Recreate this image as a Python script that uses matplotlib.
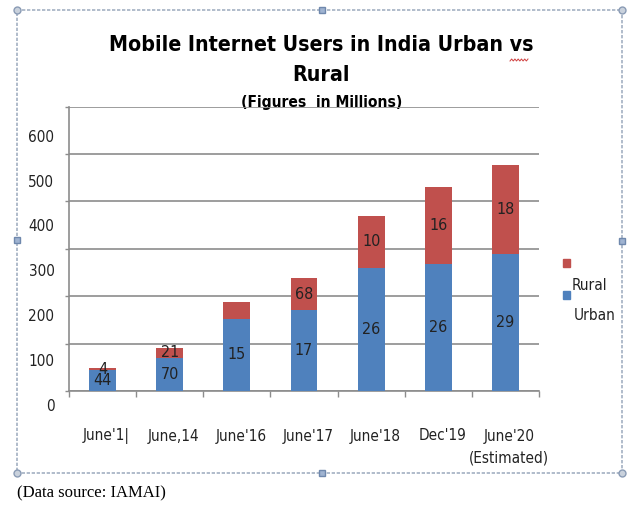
import numpy as np
import matplotlib
matplotlib.use("Agg")
import matplotlib.pyplot as plt
from matplotlib import font_manager as fm
from matplotlib.patches import Rectangle
from matplotlib.transforms import ScaledTranslation

# data (millions)
categories = ["June'1|", "June,14", "June'16", "June'17", "June'18", "Dec'19", "June'20\n(Estimated)"]
urban = [44, 70, 152, 170, 260, 267, 289]
rural = [4, 21, 35, 68, 109, 164, 189]
# labels exactly as printed on the original chart
urban_labels = ["44", "70", "15", "17", "26", "26", "29"]
rural_labels = ["4", "21", "", "68", "10", "16", "18"]
y_ticks = [0, 100, 200, 300, 400, 500, 600]


def find_narrow():
    # look for an Arial-Narrow-like face; the original chart uses one
    best = None
    for f in fm.fontManager.ttflist:
        nm = f.name
        if 'Mono' in nm or 'CJK' in nm or f.style != 'normal':
            continue
        if 'Liberation Sans Narrow' in nm or 'Arial Narrow' in nm:
            rank = 0
        elif any(s in nm for s in ['Roboto', 'Noto Sans', 'Open Sans', 'DejaVu Sans', 'Lato', 'Inter']) and \
                ('Condensed' in nm or f.stretch == 'condensed'):
            rank = 1
        elif any(s in nm for s in ['Roboto', 'Noto Sans', 'Open Sans', 'DejaVu Sans']) and \
                f.stretch == 'semi-condensed':
            rank = 2
        else:
            continue
        if best is None or rank < best[0]:
            best = (rank, nm, f.stretch)
    return best


narrow = find_narrow()
if narrow:
    plt.rcParams['font.family'] = [narrow[1], 'DejaVu Sans']
    plt.rcParams['font.stretch'] = narrow[2]
else:
    plt.rcParams['font.family'] = ['Liberation Sans', 'DejaVu Sans']

txt = '#222222'
grid_col = '#8c8c8c'
blue = '#4F81BD'
red = '#C0504D'
fs_tick = 11
fs_lab = 11.5

fig = plt.figure(figsize=(6.3, 5.07), dpi=100)

# overlay in pixel coords for the frame, titles and legend
ax0 = fig.add_axes([0, 0, 1, 1])
ax0.set_xlim(0, 630)
ax0.set_ylim(507, 0)
ax0.axis('off')

ax = fig.add_axes([69 / 630, 1 - 391 / 507, 470 / 630, 284.3 / 507])
ax.patch.set_visible(False)
x = np.arange(len(categories))
ax.bar(x, urban, width=0.4, color=blue, zorder=3)
ax.bar(x, rural, bottom=urban, width=0.4, color=red, zorder=3)

for xi, u, r, ul, rl in zip(x, urban, rural, urban_labels, rural_labels):
    ax.text(xi, u / 2, ul, ha='center', va='center', fontsize=fs_lab, color=txt, zorder=4)
    if rl:
        ax.text(xi, u + r / 2, rl, ha='center', va='center', fontsize=fs_lab, color=txt, zorder=4)

ax.set_xlim(-0.5, 6.5)
ax.set_ylim(0, 600)
ax.set_yticks(y_ticks)
ax.yaxis.grid(True, color=grid_col, lw=1.2, zorder=0)
ax.tick_params(axis='y', length=3, width=1, color=grid_col, pad=7.5, labelsize=fs_tick, labelcolor=txt)
# tick labels on the original sit below their gridlines, drifting more toward the top
for i, lab in enumerate(ax.get_yticklabels()):
    lab.set_transform(lab.get_transform() + ScaledTranslation(0, -(14 + 2.5 * i) / 100, fig.dpi_scale_trans))

ax.set_xticks(x, categories)
ax.set_xticks(np.arange(-0.5, 7, 1), minor=True)
ax.tick_params(axis='x', which='major', length=0, pad=27, labelsize=fs_tick, labelcolor=txt)
ax.tick_params(axis='x', which='minor', length=4, width=1, color=grid_col)
for lab in ax.get_xticklabels():
    lab.set_linespacing(1.55)
    lab.set_transform(lab.get_transform() + ScaledTranslation(0.04, 0, fig.dpi_scale_trans))

for s in ['top', 'right']:
    ax.spines[s].set_visible(False)
for s in ['left', 'bottom']:
    ax.spines[s].set_color(grid_col)
    ax.spines[s].set_linewidth(1.2)

# titles
ax0.text(321.5, 60, "Mobile Internet Users in India Urban vs\nRural", ha='center', va='center',
         fontsize=15.3, fontweight='bold', color='black', linespacing=1.6)
ax0.text(322, 103, "(Figures  in Millions)", ha='center', va='center', fontsize=11.2,
         fontweight='bold', color='black')
sq_x = np.linspace(510, 528, 12)
ax0.plot(sq_x, 60 + 1.0 * (-1) ** np.arange(12), color='#d04040', lw=0.7)

# legend
ax0.add_patch(Rectangle((563, 259), 7, 8.3, color=red))
ax0.add_patch(Rectangle((563, 290.7), 7, 8.6, color=blue))
ax0.text(571.5, 285, "Rural", ha='left', va='center', fontsize=fs_tick, color=txt)
ax0.text(574, 316, "Urban", ha='left', va='center', fontsize=fs_tick, color=txt)

# selection frame around the chart
ax0.add_patch(Rectangle((17, 10), 605, 463, fill=False, ls=(0, (2, 1)), ec='#a3b0c2', lw=1.2))
ax0.plot([17, 622, 17, 622], [10, 10, 473, 473], 'o', ms=5, mfc='#c9d1dc', mec='#8a9bb5', mew=1)
ax0.plot([321.5, 321.5, 17, 622], [10, 473, 240, 241], 's', ms=5, mfc='#9fb3d1', mec='#6f88ad', mew=1)

ax0.text(17, 493, "(Data source: IAMAI)", family='Liberation Serif', fontsize=12,
         va='center', ha='left', color='black')

fig.savefig("out.png", dpi=100)
